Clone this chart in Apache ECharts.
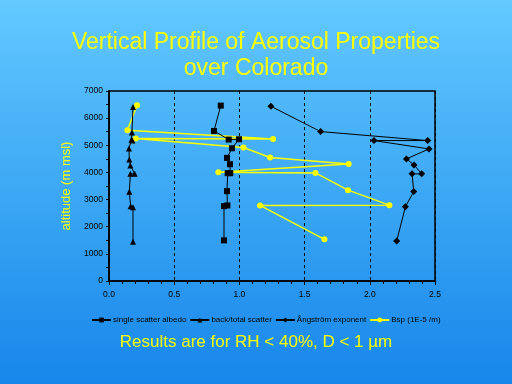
<!DOCTYPE html>
<html><head><meta charset="utf-8">
<script src="https://cdn.jsdelivr.net/npm/echarts@6/dist/echarts.min.js"></script>
<style>html,body{margin:0;padding:0;}#c{width:512px;height:384px;}</style>
</head><body><div id="c"></div>
<script>
var xTicks = [0.0, 0.5, 1.0, 1.5, 2.0, 2.5];
var yTicks = [0, 1000, 2000, 3000, 4000, 5000, 6000, 7000];
var seriesNames = ['single scatter albedo', 'back/total scatter', '\u00C5ngstr\u00F6m exponent', 'Bsp (1E-5 /m)'];
// [value, altitude (m msl)]
var albedo = [[0.857,6462],[0.805,5528],[0.918,5211],[0.997,5222],[0.943,4891],[0.905,4535],[0.928,4303],[0.93,3972],[0.91,3972],[0.905,3310],[0.908,2784],[0.882,2758],[0.882,1497]];
var backTotal = [[0.184,6411],[0.176,5468],[0.172,5200],[0.18,5180],[0.153,4880],[0.156,4476],[0.164,4255],[0.197,3947],[0.164,3947],[0.156,3285],[0.166,2758],[0.184,2720],[0.184,1447]];
var angstrom = [[1.242,6436],[1.623,5505],[2.444,5174],[2.032,5174],[2.454,4866],[2.281,4499],[2.339,4278],[2.398,3947],[2.324,3947],[2.337,3299],[2.273,2733],[2.206,1471]];
var bsp = [[0.215,6473],[0.141,5553],[1.258,5234],[0.205,5248],[1.031,4917],[1.235,4549],[1.838,4314],[0.839,4009],[1.583,3983],[1.833,3347],[2.150,2795],[1.158,2784],[1.652,1534]];

var chart = echarts.init(document.getElementById('c'));
var shadow = {textShadowColor:'#000', textShadowOffsetX:1, textShadowOffsetY:1, textShadowBlur:0};
function mk(name, data, sym, color, size, lw){
  return {name:name, type:'line', data:data, symbol:sym, symbolSize:size, showSymbol:true,
    lineStyle:{color:color, width:lw}, itemStyle:{color:color}, animation:false, z: color==='#FFFF00'?2:3};
}
chart.setOption({
  animation:false,
  backgroundColor: new echarts.graphic.LinearGradient(0,0,0,1,[{offset:0,color:'#63C9FF'},{offset:1,color:'#1686EA'}]),
  title:[
    {text:'Vertical Profile of Aerosol Properties', left:'center', top:26,
     textStyle:Object.assign({color:'#FFFF00', fontFamily:'Liberation Sans', fontSize:23, fontWeight:'normal'}, shadow)},
    {text:'over Colorado', left:'center', top:52,
     textStyle:Object.assign({color:'#FFFF00', fontFamily:'Liberation Sans', fontSize:23, fontWeight:'normal'}, shadow)},
    {text:'Results are for RH < 40%, D < 1 \u00B5m', left:'center', top:329,
     textStyle:Object.assign({color:'#FFFF00', fontFamily:'Liberation Sans', fontSize:17, fontWeight:'normal'}, shadow)}
  ],
  grid:{left:109, right:77, top:91, bottom:103, show:false},
  legend:{top:311, left:86, itemWidth:19, itemHeight:6, itemGap:3,
    textStyle:{color:'#000', fontFamily:'Liberation Sans', fontSize:8, padding:[0,0,0,-3]}, data:seriesNames},
  xAxis:{type:'value', min:0, max:2.5, interval:0.5,
    axisLine:{show:true, lineStyle:{color:'#000', width:1.5}},
    axisTick:{show:true, inside:false, length:4, lineStyle:{color:'#000'}},
    minorTick:{show:true, splitNumber:5, length:3, lineStyle:{color:'#000'}},
    axisLabel:{color:'#000', fontFamily:'Liberation Sans', fontSize:8.5, margin:9,
      formatter:function(v){return v.toFixed(1);}},
    splitLine:{show:true, lineStyle:{color:'#000', type:[3,3], width:1}}},
  yAxis:{type:'value', min:0, max:7000, interval:1000,
    name:'altitude (m msl)', nameLocation:'middle', nameGap:28,
    nameTextStyle:{color:'#FFFF00', fontFamily:'Liberation Sans', fontSize:13},
    axisLine:{show:true, lineStyle:{color:'#000', width:1.5}},
    axisTick:{show:true, length:3, lineStyle:{color:'#000'}},
    minorTick:{show:true, splitNumber:2, length:3, lineStyle:{color:'#000'}},
    axisLabel:{color:'#000', fontFamily:'Liberation Sans', fontSize:8.5, margin:6,
      formatter:function(v){return String(v);}},
    splitLine:{show:false}},
  graphic:[{type:'rect', shape:{x:109, y:91, width:326, height:190}, style:{fill:'none', stroke:'#000', lineWidth:1.5}, z:-1, silent:true}],
  series:[
    mk(seriesNames[0], albedo, 'rect', '#000', 6, 1),
    mk(seriesNames[1], backTotal, 'triangle', '#000', 6, 1),
    mk(seriesNames[2], angstrom, 'diamond', '#000', 7, 1),
    mk(seriesNames[3], bsp, 'circle', '#FFFF00', 6, 1.5)
  ]
});
</script></body></html>
